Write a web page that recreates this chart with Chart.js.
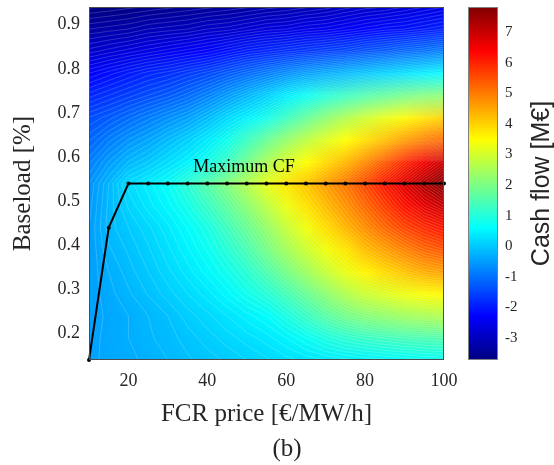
<!DOCTYPE html>
<html>
<head>
<meta charset="utf-8">
<script src="https://cdn.jsdelivr.net/npm/chart.js@4.4.0/dist/chart.umd.min.js"></script>
<style>
  html, body { margin: 0; padding: 0; background: #fff; }
  canvas { display: block; }
</style>
</head>
<body>
<canvas id="chart-canvas" width="554" height="465"></canvas>
<script>
// FCR price grid (columns) and baseload grid (rows, top to bottom)
const prices = [10, 15, 20, 25, 30, 35, 40, 45, 50, 55, 60, 65, 70, 75, 80, 85, 90, 95, 100];
const baseloads = [0.94, 0.89, 0.84, 0.79, 0.74, 0.69, 0.64, 0.59, 0.54, 0.49, 0.44, 0.39, 0.34, 0.29, 0.24, 0.19, 0.14];

// cash flow [M€], one row per baseload
const cashFlow = [
  [-3.72, -3.68, -3.63, -3.58, -3.53, -3.48, -3.43, -3.38, -3.32, -3.25, -3.2, -3.12, -3.05, -2.95, -2.85, -2.8, -2.7, -2.6, -2.5],
  [-3.3, -3.25, -3.2, -3.1, -3.05, -3.0, -2.9, -2.85, -2.75, -2.65, -2.6, -2.5, -2.45, -2.35, -2.25, -2.15, -2.1, -2.0, -1.9],
  [-2.85, -2.75, -2.65, -2.55, -2.45, -2.35, -2.25, -2.1, -1.95, -1.85, -1.75, -1.65, -1.55, -1.45, -1.3, -1.2, -1.05, -0.95, -0.8],
  [-2.3, -2.15, -2.0, -1.85, -1.75, -1.6, -1.45, -1.25, -1.05, -0.85, -0.65, -0.45, -0.3, -0.15, 0.0, 0.15, 0.3, 0.45, 0.6],
  [-1.85, -1.7, -1.55, -1.4, -1.25, -1.05, -0.8, -0.5, -0.2, 0.1, 0.45, 0.75, 1.05, 1.3, 1.55, 1.75, 1.95, 2.1, 2.2],
  [-1.4, -1.25, -1.05, -0.85, -0.65, -0.45, -0.15, 0.2, 0.5, 0.85, 1.3, 1.75, 2.2, 2.6, 2.95, 3.25, 3.55, 3.8, 4.0],
  [-1.13, -0.85, -0.6, -0.4, -0.15, 0.1, 0.4, 0.8, 1.3, 1.8, 2.3, 2.75, 3.15, 3.5, 3.85, 4.2, 4.6, 4.95, 5.2],
  [-0.84, -0.5, -0.2, 0.0, 0.25, 0.5, 0.85, 1.3, 1.9, 2.55, 3.05, 3.5, 3.9, 4.3, 4.8, 5.35, 5.95, 6.5, 7.0],
  [-0.6, -0.2, 0.25, 0.45, 0.7, 1.1, 1.6, 2.1, 2.65, 3.25, 3.75, 4.15, 4.6, 5.05, 5.6, 6.15, 6.75, 7.3, 7.8],
  [-0.55, -0.17, 0.12, 0.35, 0.55, 0.85, 1.25, 1.7, 2.2, 2.75, 3.3, 3.8, 4.25, 4.7, 5.2, 5.7, 6.2, 6.65, 7.0],
  [-0.5, -0.15, 0.0, 0.17, 0.37, 0.61, 0.9, 1.33, 1.8, 2.3, 2.85, 3.35, 3.85, 4.3, 4.75, 5.2, 5.6, 5.9, 6.15],
  [-0.5, -0.22, -0.08, 0.08, 0.27, 0.48, 0.72, 1.05, 1.45, 1.95, 2.45, 2.9, 3.35, 3.75, 4.2, 4.55, 4.9, 5.2, 5.4],
  [-0.48, -0.3, -0.15, 0.0, 0.17, 0.35, 0.55, 0.8, 1.1, 1.5, 1.95, 2.4, 2.85, 3.25, 3.6, 3.9, 4.15, 4.4, 4.55],
  [-0.47, -0.34, -0.22, -0.09, 0.05, 0.2, 0.35, 0.55, 0.8, 1.05, 1.4, 1.8, 2.2, 2.6, 2.9, 3.1, 3.3, 3.45, 3.55],
  [-0.45, -0.38, -0.3, -0.2, -0.1, 0.05, 0.17, 0.3, 0.45, 0.6, 0.9, 1.25, 1.6, 1.9, 2.1, 2.25, 2.4, 2.5, 2.6],
  [-0.44, -0.37, -0.3, -0.22, -0.15, -0.05, 0.05, 0.15, 0.25, 0.35, 0.5, 0.7, 0.92, 1.1, 1.22, 1.32, 1.4, 1.46, 1.5],
  [-0.42, -0.38, -0.33, -0.27, -0.2, -0.12, -0.05, 0.02, 0.1, 0.18, 0.26, 0.33, 0.4, 0.46, 0.52, 0.57, 0.62, 0.67, 0.7]
];
const contourStep = 0.1;

// optimal baseload for each price ("Maximum CF" line)
const maxCfPrice = [10, 15, 20, 25, 30, 35, 40, 45, 50, 55, 60, 65, 70, 75, 80, 85, 90, 95, 100];
const maxCfBaseload = [0.14, 0.44, 0.54, 0.54, 0.54, 0.54, 0.54, 0.54, 0.54, 0.54, 0.54, 0.54, 0.54, 0.54, 0.54, 0.54, 0.54, 0.54, 0.54];
const maxCfLabel = "Maximum CF";
const maxCfLabelAt = [36.4, 0.565];

const xTicks = [20, 40, 60, 80, 100];
const yTicks = [0.2, 0.3, 0.4, 0.5, 0.6, 0.7, 0.8, 0.9];
const cbTicks = [-3, -2, -1, 0, 1, 2, 3, 4, 5, 6, 7];
const cbMin = -3.72;
const cbMax = 7.82;

const serif = "'Liberation Serif', 'Times New Roman', serif";
const textColor = "#262626";

// matlab jet colormap
const jet = (t) => {
  t = Math.min(1, Math.max(0, t));
  const f = (v) => Math.round(255 * Math.min(1, Math.max(0, 1.5 - Math.abs(v))));
  return [f(4 * t - 3), f(4 * t - 2), f(4 * t - 1)];
};

// small image, one pixel per grid value, scaled onto the plot
const heatCanvas = document.createElement("canvas");
heatCanvas.width = prices.length;
heatCanvas.height = baseloads.length;
const hctx = heatCanvas.getContext("2d");
const img = hctx.createImageData(prices.length, baseloads.length);
cashFlow.forEach((row, r) => {
  row.forEach((v, c) => {
    const [cr, cg, cb] = jet((v - cbMin) / (cbMax - cbMin));
    const i = (r * prices.length + c) * 4;
    img.data[i] = cr;
    img.data[i + 1] = cg;
    img.data[i + 2] = cb;
    img.data[i + 3] = 255;
  });
});
hctx.putImageData(img, 0, 0);

// contour segments (marching squares) in data units
const contourSegments = () => {
  const segs = [];
  const flat = cashFlow.flat();
  const lo = Math.ceil(Math.min(...flat) / contourStep);
  const hi = Math.floor(Math.max(...flat) / contourStep);
  for (let k = lo; k <= hi; k++) {
    const L = k * contourStep;
    for (let r = 0; r < baseloads.length - 1; r++) {
      for (let c = 0; c < prices.length - 1; c++) {
        const corners = [
          [prices[c], baseloads[r], cashFlow[r][c]],
          [prices[c + 1], baseloads[r], cashFlow[r][c + 1]],
          [prices[c + 1], baseloads[r + 1], cashFlow[r + 1][c + 1]],
          [prices[c], baseloads[r + 1], cashFlow[r + 1][c]],
        ];
        const pts = [];
        for (let e = 0; e < 4; e++) {
          const a = corners[e], b = corners[(e + 1) % 4];
          if ((a[2] >= L) !== (b[2] >= L)) {
            const t = (L - a[2]) / (b[2] - a[2]);
            pts.push([a[0] + t * (b[0] - a[0]), a[1] + t * (b[1] - a[1])]);
          }
        }
        for (let i = 0; i + 1 < pts.length; i += 2) segs.push([pts[i], pts[i + 1]]);
      }
    }
  }
  return segs;
};
const segments = contourSegments();

// axis sizes are fixed so the plot box lands where the figure has it
const fixSize = (w, h) => (s) => {
  if (w !== null) s.width = w;
  if (h !== null) s.height = h;
  s.paddingTop = 0;
  s.paddingBottom = 0;
  s.paddingLeft = 0;
  s.paddingRight = 0;
};

const heatmap = {
  id: "heatmap",
  beforeDatasetsDraw(chart) {
    const { ctx, chartArea: a, scales: { x, y } } = chart;
    const dx = (prices[1] - prices[0]) / 2;
    const dy = (baseloads[0] - baseloads[1]) / 2;
    const left = x.getPixelForValue(prices[0] - dx);
    const right = x.getPixelForValue(prices[prices.length - 1] + dx);
    const top = y.getPixelForValue(baseloads[0] + dy);
    const bottom = y.getPixelForValue(baseloads[baseloads.length - 1] - dy);
    ctx.save();
    ctx.beginPath();
    ctx.rect(a.left, a.top, a.right - a.left, a.bottom - a.top);
    ctx.clip();
    ctx.imageSmoothingEnabled = true;
    ctx.imageSmoothingQuality = "low";
    ctx.drawImage(heatCanvas, left, top, right - left, bottom - top);

    // thin white contour lines
    ctx.strokeStyle = "rgba(255,255,255,0.3)";
    ctx.lineWidth = 0.6;
    ctx.beginPath();
    segments.forEach(([p, q]) => {
      ctx.moveTo(x.getPixelForValue(p[0]), y.getPixelForValue(p[1]));
      ctx.lineTo(x.getPixelForValue(q[0]), y.getPixelForValue(q[1]));
    });
    ctx.stroke();
    ctx.restore();
  },
  afterDatasetsDraw(chart) {
    const { ctx, chartArea: a, scales: { x, y, cb } } = chart;
    ctx.save();
    // axes box
    ctx.strokeStyle = "#4d4d4d";
    ctx.lineWidth = 1;
    ctx.strokeRect(a.left + 0.5, a.top + 0.5, a.right - a.left - 1, a.bottom - a.top - 1);

    // label of the line
    ctx.fillStyle = "#000";
    ctx.font = "18px " + serif;
    ctx.textBaseline = "alphabetic";
    ctx.textAlign = "left";
    ctx.fillText(maxCfLabel, x.getPixelForValue(maxCfLabelAt[0]), y.getPixelForValue(maxCfLabelAt[1]));

    // colorbar
    const cbLeft = 468, cbWidth = 30;
    const top = cb.getPixelForValue(cbMax);
    const bottom = cb.getPixelForValue(cbMin);
    const grad = ctx.createLinearGradient(0, bottom, 0, top);
    for (let i = 0; i <= 16; i++) {
      const [r, g, b] = jet(i / 16);
      grad.addColorStop(i / 16, `rgb(${r},${g},${b})`);
    }
    ctx.fillStyle = grad;
    ctx.fillRect(cbLeft, top, cbWidth, bottom - top);
    ctx.strokeStyle = "#808080";
    ctx.strokeRect(cbLeft + 0.5, top + 0.5, cbWidth - 1, bottom - top - 1);

    // colorbar title
    ctx.save();
    ctx.translate(549, (top + bottom) / 2);
    ctx.rotate(-Math.PI / 2);
    ctx.textAlign = "center";
    ctx.textBaseline = "alphabetic";
    ctx.fillStyle = textColor;
    ctx.font = "25px 'Liberation Sans', Arial, sans-serif";
    ctx.fillText("Cash flow [M€]", 0, 0);
    ctx.restore();

    // panel tag
    ctx.fillStyle = textColor;
    ctx.font = "25px " + serif;
    ctx.textAlign = "center";
    ctx.fillText("(b)", 287, 456);
    ctx.restore();
  }
};

const tickFont = { family: serif, size: 18 };

new Chart(document.getElementById("chart-canvas").getContext("2d"), {
  type: "scatter",
  data: {
    datasets: [
      {
        label: maxCfLabel,
        data: maxCfPrice.map((p, i) => ({ x: p, y: maxCfBaseload[i] })),
        showLine: true,
        borderColor: "#000",
        borderWidth: 2,
        pointRadius: 2,
        pointBackgroundColor: "#000",
        pointBorderWidth: 0,
        clip: 5,
      },
    ],
  },
  options: {
    responsive: false,
    animation: false,
    layout: { padding: { top: 7, left: 0, right: 0, bottom: 0 } },
    plugins: { legend: { display: false }, tooltip: { enabled: false } },
    scales: {
      x: {
        type: "linear",
        min: 10,
        max: 100,
        afterBuildTicks: (s) => { s.ticks = xTicks.map((v) => ({ value: v })); },
        afterFit: fixSize(null, 105),
        grid: { display: false, drawTicks: false },
        border: { display: false },
        ticks: { padding: 10, color: textColor, font: tickFont, maxRotation: 0 },
        title: {
          display: true,
          text: "FCR price [€/MW/h]",
          color: textColor,
          font: { family: serif, size: 25 },
          padding: { top: 0, bottom: 36 },
        },
      },
      y: {
        type: "linear",
        min: 0.14,
        max: 0.94,
        afterBuildTicks: (s) => { s.ticks = yTicks.map((v) => ({ value: v })); },
        afterFit: fixSize(89, null),
        grid: { display: false, drawTicks: false },
        border: { display: false },
        ticks: { padding: 9, color: textColor, font: tickFont, callback: (v) => v.toFixed(1) },
        title: {
          display: true,
          text: "Baseload [%]",
          color: textColor,
          font: { family: serif, size: 25 },
          padding: { top: 8, bottom: 0 },
        },
      },
      cb: {
        type: "linear",
        position: "right",
        min: cbMin,
        max: cbMax,
        afterBuildTicks: (s) => { s.ticks = cbTicks.map((v) => ({ value: v })); },
        afterFit: fixSize(110, null),
        grid: { display: false, drawTicks: false },
        border: { display: false },
        ticks: { padding: 61, color: textColor, font: { family: serif, size: 15 } },
      },
    },
  },
  plugins: [heatmap],
});
</script>
</body>
</html>
